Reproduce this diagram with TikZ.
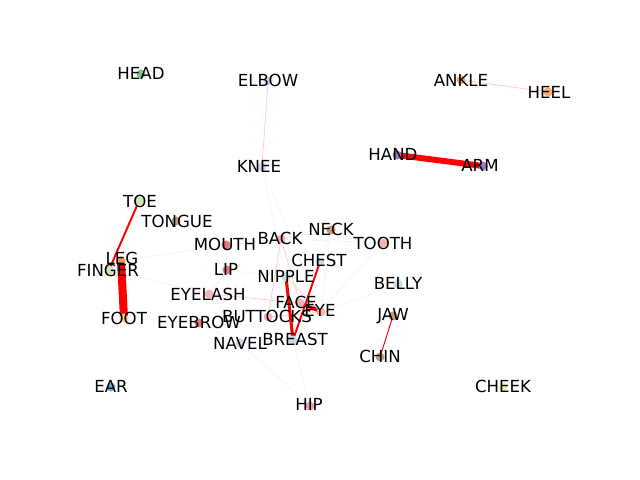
\documentclass[tikz,border=0pt]{standalone}
\usepackage{fontspec}
\setmainfont{DejaVu Sans}
\usepackage{tikz}
\usetikzlibrary{calc}
\pgfdeclarelayer{background}
\pgfsetlayers{background,main}

\definecolor{cgreen}{HTML}{7CC47E}
\definecolor{clgreen}{HTML}{C7E5B8}
\definecolor{clav}{HTML}{DCD6EC}
\definecolor{corange}{HTML}{FDAE6B}
\definecolor{cdorange}{HTML}{F59A55}
\definecolor{clorange}{HTML}{FDD5A8}
\definecolor{cpurple}{HTML}{9C7CC0}
\definecolor{cbrown}{HTML}{C49A76}
\definecolor{cred}{HTML}{E8787A}
\definecolor{cpink}{HTML}{F4B4B4}
\definecolor{cblue}{HTML}{C2DCEE}
\definecolor{cdblue}{HTML}{6BAED6}
\definecolor{cyellow}{HTML}{F3F1B0}

\tikzstyle{dot} = [circle, inner sep=0pt, minimum size=6.5pt]
\tikzstyle{tag} = [inner sep=0pt, font=\fontsize{12}{14}\selectfont]
\tikzstyle{faint} = [gray!12, line width=0.4pt]
\tikzstyle{blush} = [red!22, line width=0.5pt]
\tikzstyle{link} = [red, line cap=round]

\begin{document}
\begin{tikzpicture}[x=0.01in, y=-0.01in]
        \useasboundingbox (0,0) rectangle (640,480);

        % Dots
        \node at (141,74) [dot, fill=cgreen] (head) {};
        \node at (268,81) [dot, fill=clav] (elbow) {};
        \node at (262,167) [dot, fill=clav] (knee) {};
        \node at (461,80) [dot, fill=corange] (ankle) {};
        \node at (548,92) [dot, fill=corange] (heel) {};
        \node at (397,155) [dot, fill=cpurple] (hand) {};
        \node at (483,166) [dot, fill=cpurple] (arm) {};
        \node at (139,201) [dot, fill=clgreen] (toe) {};
        \node at (176,221) [dot, fill=cbrown] (tongue) {};
        \node at (121,261) [dot, fill=cdorange] (leg) {};
        \node at (109,270) [dot, fill=clgreen] (finger) {};
        \node at (124,318) [dot, fill=clorange] (foot) {};
        \node at (226,245) [dot, fill=cred] (mouth) {};
        \node at (227,270) [dot, fill=cred] (lip) {};
        \node at (209,294) [dot, fill=cpink] (eyelash) {};
        \node at (199,323) [dot, fill=cred] (eyebrow) {};
        \node at (281,239) [dot, fill=cpink] (back) {};
        \node at (331,230) [dot, fill=cbrown] (neck) {};
        \node at (383,243) [dot, fill=cpink] (tooth) {};
        \node at (320,262) [dot, fill=cblue] (chest) {};
        \node at (286,277) [dot, fill=cblue] (nipple) {};
        \node at (398,284) [dot, fill=cblue] (belly) {};
        \node at (300,303) [dot, fill=cpink] (face) {};
        \node at (321,312) [dot, fill=cpink] (eye) {};
        \node at (268,317) [dot, fill=cpink] (buttocks) {};
        \node at (293,340) [dot, fill=cblue] (breast) {};
        \node at (240,343) [dot, fill=cblue] (navel) {};
        \node at (393,316) [dot, fill=cbrown] (jaw) {};
        \node at (380,357) [dot, fill=cbrown] (chin) {};
        \node at (111,387) [dot, fill=cdblue] (ear) {};
        \node at (310,406) [dot, fill=cred!70] (hip) {};
        \node at (503,387) [dot, fill=cyellow] (cheek) {};

        % Labels
        \node at (141,73) [tag] (headtxt) {HEAD};
        \node at (268,80) [tag] (elbowtxt) {ELBOW};
        \node at (259,166) [tag] (kneetxt) {KNEE};
        \node at (461,80) [tag] (ankletxt) {ANKLE};
        \node at (549,92) [tag] (heeltxt) {HEEL};
        \node at (393,154) [tag] (handtxt) {HAND};
        \node at (480,165) [tag] (armtxt) {ARM};
        \node at (140,201) [tag] (toetxt) {TOE};
        \node at (177,221) [tag] (tonguetxt) {TONGUE};
        \node at (122,258) [tag] (legtxt) {LEG};
        \node at (108,270) [tag] (fingertxt) {FINGER};
        \node at (124,318) [tag] (foottxt) {FOOT};
        \node at (225,244) [tag] (mouthtxt) {MOUTH};
        \node at (226,269) [tag] (liptxt) {LIP};
        \node at (208,294) [tag] (eyelashtxt) {EYELASH};
        \node at (199,322) [tag] (eyebrowtxt) {EYEBROW};
        \node at (280,238) [tag] (backtxt) {BACK};
        \node at (331,229) [tag] (necktxt) {NECK};
        \node at (383,243) [tag] (toothtxt) {TOOTH};
        \node at (319,260) [tag] (chesttxt) {CHEST};
        \node at (286,276) [tag] (nippletxt) {NIPPLE};
        \node at (398,283) [tag] (bellytxt) {BELLY};
        \node at (296,302) [tag] (facetxt) {FACE};
        \node at (320,310) [tag] (eyetxt) {EYE};
        \node at (267,316) [tag] (buttockstxt) {BUTTOCKS};
        \node at (295,339) [tag] (breasttxt) {BREAST};
        \node at (240,343) [tag] (naveltxt) {NAVEL};
        \node at (393,316) [tag] (jawtxt) {JAW};
        \node at (380,356) [tag] (chintxt) {CHIN};
        \node at (111,386) [tag] (eartxt) {EAR};
        \node at (309,404) [tag] (hiptxt) {HIP};
        \node at (503,386) [tag] (cheektxt) {CHEEK};

        \begin{pgfonlayer}{background}
        % Faint links
        \draw [faint] (back.center) -- (tooth.center);
        \draw [faint] (back.center) -- (mouth.center);
        \draw [faint] (neck.center) -- (eye.center);
        \draw [faint] (neck.center) -- (breast.center);
        \draw [faint] (neck.center) -- (back.center);
        \draw [faint] (belly.center) -- (eye.center);
        \draw [faint] (tooth.center) -- (breast.center);
        \draw [faint] (hip.center) -- (breast.center);
        \draw [faint] (hip.center) -- (navel.center);
        \draw [faint] (knee.center) -- (nipple.center);
        \draw [faint] (knee.center) -- (eye.center);
        \draw [faint] (lip.center) -- (nipple.center);
        \draw [faint] (mouth.center) -- (lip.center);
        \draw [faint] (leg.center) -- (mouth.center);
        \draw [faint] (finger.center) -- (eyelash.center);
        \draw [faint] (foot.center) -- (eyebrow.center);
        \draw [faint] (eyebrow.center) -- (navel.center);
        \draw [faint] (navel.center) -- (breast.center);
        \draw [faint] (eyelash.center) -- (lip.center);

        % Pale red links
        \draw [blush] (elbow.center) -- (knee.center);
        \draw [blush] (ankle.center) -- (heel.center);
        \draw [blush] (back.center) -- (buttocks.center);
        \draw [blush] (back.center) -- (face.center);
        \draw [blush] (nipple.center) -- (eye.center);
        \draw [blush] (eyelash.center) -- (face.center);
        \draw [blush] (buttocks.center) -- (eye.center);

        % Strong links
        \draw [link, line width=4.3pt] (hand.center) -- (arm.center);
        \draw [link, line width=5.8pt] (leg.center) -- (foot.center);
        \draw [link, line width=1.4pt] (toe.center) -- (finger.center);
        \draw [link, line width=0.7pt] (jaw.center) -- (chin.center);
        \draw [link, line width=1.4pt] (chest.center) -- (breast.center);
        \draw [link, line width=2.2pt] (nipple.center) -- (breast.center);
        \draw [link, line width=2.2pt] (face.center) -- (eye.center);
        \end{pgfonlayer}

\end{tikzpicture}
\end{document}
